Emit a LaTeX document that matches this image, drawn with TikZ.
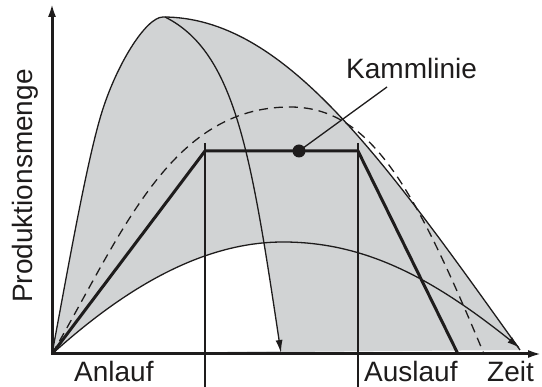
\documentclass[tikz,border=0pt]{standalone}
\usepackage{fontspec}
\setmainfont{Liberation Sans}
\usetikzlibrary{arrows.meta}
\definecolor{fillgray}{RGB}{209,211,212}
\definecolor{ink}{RGB}{30,28,28}
\begin{document}
\begin{tikzpicture}[x=1pt,y=-1pt,
  thinline/.style={line width=1.3pt, draw=ink},
  thickline/.style={line width=3pt, draw=ink, line join=miter},
  dashline/.style={line width=1.3pt, draw=ink, dash pattern=on 9pt off 6pt},
  lbl/.style={font=\fontsize{28}{28}\selectfont, inner sep=0pt, text=ink},
  tip/.style={-{Latex[length=13pt,width=7pt]}},
  axtip/.style={{Latex[length=14pt,width=8pt]}-{Latex[length=14pt,width=8pt]}}]
\useasboundingbox (0,0) rectangle (542,387);

\coordinate (O) at (52,354);
\coordinate (ytip) at (52,3);
\coordinate (xtip) at (542,354);
\coordinate (peak) at (163,17);
\coordinate (apeak) at (165,17);
\coordinate (oq) at (101,115);
\coordinate (E) at (520,350);
\coordinate (lowtop) at (283,242);
\coordinate (lowend) at (520,348);
\coordinate (arrend) at (281,353);
\coordinate (dtop) at (290,107);
\coordinate (dend) at (484,354);
\coordinate (tl) at (205,151);
\coordinate (tr) at (358,151);
\coordinate (br) at (458,354);
\coordinate (v1t) at (205,143);
\coordinate (v1b) at (205,387);
\coordinate (v2t) at (358,143);
\coordinate (v2b) at (358,387);
\coordinate (kl) at (387,87);

% gray region under the outer curve
\fill[fillgray] (O) .. controls (67,274) and (86,165) .. (oq) .. controls (116,65) and (146,17) .. (peak) .. controls (283,17) and (380,154) .. (E) -- cycle;

% white part below the lower curve, left of the arrow curve
\begin{scope}
\clip (0,400) -- (0,0) -- (165,0) -- (apeak) .. controls (235,52) and (251,153) .. (arrend) -- (281,400) -- cycle;
\fill[white] (O) .. controls (112,300) and (193,242) .. (lowtop) .. controls (363,242) and (430,276) .. (lowend) -- cycle;
\end{scope}

% outer curve
\draw[thinline] (O) .. controls (67,274) and (86,165) .. (oq) .. controls (116,65) and (146,17) .. (peak) .. controls (283,17) and (380,154) .. (E);
% arrow curve from the peak
\draw[thinline, tip] (apeak) .. controls (235,52) and (251,153) .. (arrend);
% lower curve
\draw[thinline, tip] (O) .. controls (112,300) and (193,242) .. (lowtop) .. controls (363,242) and (430,276) .. (lowend);
% dashed curve
\draw[dashline] (O) .. controls (122,234) and (170,107) .. (dtop) .. controls (370,107) and (414,186) .. (dend);

% vertical thin lines
\draw[thinline] (v1t) -- (v1b);
\draw[thinline] (v2t) -- (v2b);

% thick trapezoid
\draw[thickline] (O) -- (tl) -- (tr) -- (br);

% axes
\draw[thickline, axtip] (ytip) -- (O) -- (xtip);

% Kammlinie marker
\node[circle, fill=ink, inner sep=0pt, minimum size=13pt] (dot) at (299,151) {};
\draw[thinline] (dot.center) -- (kl);
\node[lbl, anchor=base west] (kamm) at (346,79) {Kammlinie};

% labels
\node[lbl, anchor=base west] (anl) at (74,382) {Anlauf};
\node[lbl, anchor=base west] (ausl) at (364,382) {Auslauf};
\node[lbl, anchor=base west] (zeit) at (487,382) {Zeit};
\node[lbl, anchor=base west, rotate=90] (prod) at (33,303) {Produktionsmenge};
\end{tikzpicture}
\end{document}
